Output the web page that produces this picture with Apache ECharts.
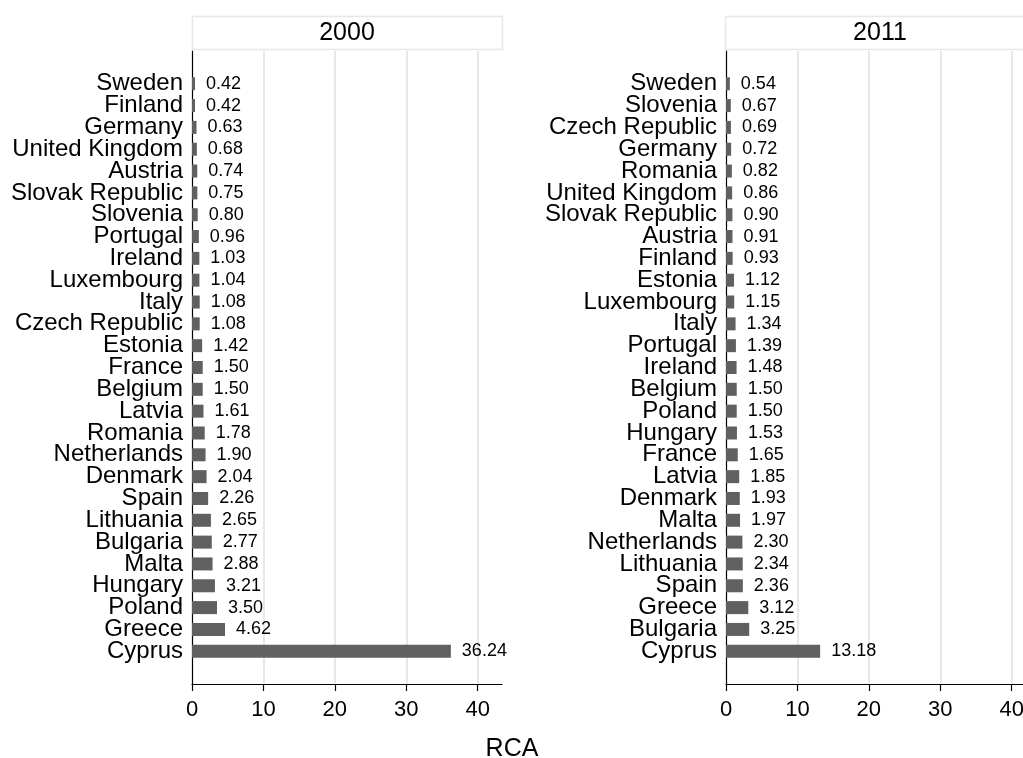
<!DOCTYPE html>
<html>
<head>
<meta charset="utf-8">
<script src="https://cdn.jsdelivr.net/npm/echarts@6/dist/echarts.min.js"></script>
<style>
  html, body { margin: 0; padding: 0; background: #fff; }
  #chart { width: 1023px; height: 758px; }
</style>
</head>
<body>
<div id="chart"></div>
<script>
// Revealed comparative advantage (RCA) by country, two years
const countries2000 = ['Sweden', 'Finland', 'Germany', 'United Kingdom', 'Austria', 'Slovak Republic',
  'Slovenia', 'Portugal', 'Ireland', 'Luxembourg', 'Italy', 'Czech Republic', 'Estonia', 'France',
  'Belgium', 'Latvia', 'Romania', 'Netherlands', 'Denmark', 'Spain', 'Lithuania', 'Bulgaria', 'Malta',
  'Hungary', 'Poland', 'Greece', 'Cyprus'];
const rca2000 = [0.42, 0.42, 0.63, 0.68, 0.74, 0.75, 0.80, 0.96, 1.03, 1.04, 1.08, 1.08, 1.42, 1.50,
  1.50, 1.61, 1.78, 1.90, 2.04, 2.26, 2.65, 2.77, 2.88, 3.21, 3.50, 4.62, 36.24];

const countries2011 = ['Sweden', 'Slovenia', 'Czech Republic', 'Germany', 'Romania', 'United Kingdom',
  'Slovak Republic', 'Austria', 'Finland', 'Estonia', 'Luxembourg', 'Italy', 'Portugal', 'Ireland',
  'Belgium', 'Poland', 'Hungary', 'France', 'Latvia', 'Denmark', 'Malta', 'Netherlands', 'Lithuania',
  'Spain', 'Greece', 'Bulgaria', 'Cyprus'];
const rca2011 = [0.54, 0.67, 0.69, 0.72, 0.82, 0.86, 0.90, 0.91, 0.93, 1.12, 1.15, 1.34, 1.39, 1.48,
  1.50, 1.50, 1.53, 1.65, 1.85, 1.93, 1.97, 2.30, 2.34, 2.36, 3.12, 3.25, 13.18];

const xTicks = [0, 10, 20, 30, 40];
const panelTitles = ['2000', '2011'];
const axisTitle = 'RCA';

const FONT = '"Liberation Sans", Arial, Helvetica, sans-serif';
const BAR_COLOR = '#606060';
const GRID_COLOR = '#e8e8e8';

// an empty slot above and below the bars leaves room inside the plot region
const pad = arr => [''].concat(arr, ['']);
const padVals = arr => [null].concat(arr, [null]);

const grids = [
  { left: 192, top: 51, width: 310, height: 633, outerBoundsMode: 'none', containLabel: false },
  { left: 726, top: 51, width: 310, height: 633, outerBoundsMode: 'none', containLabel: false }
];

function xAxisFor(i) {
  return {
    type: 'value', gridIndex: i, min: 0, max: 43.4,
    axisLine: { show: true, lineStyle: { color: '#000', width: 1.2 } },
    axisTick: { show: true, length: 7, lineStyle: { color: '#000', width: 1.2 }, customValues: xTicks },
    axisLabel: {
      customValues: xTicks, color: '#000', fontFamily: FONT, fontSize: 22, margin: 15,
      formatter: v => (v % 10 === 0 ? String(v) : '')
    },
    splitLine: { show: false }
  };
}

function yAxisFor(i, cats) {
  return {
    type: 'category', gridIndex: i, data: pad(cats), inverse: true,
    axisLine: { show: true, lineStyle: { color: '#000', width: 1.2 } },
    axisTick: { show: false },
    axisLabel: { color: '#000', fontFamily: FONT, fontSize: 24, margin: 9, interval: 0 },
    splitLine: { show: false }
  };
}

function barSeries(i, vals) {
  return {
    type: 'bar', xAxisIndex: i, yAxisIndex: i, data: padVals(vals), z: 3,
    barWidth: 13,
    itemStyle: { color: BAR_COLOR },
    label: {
      show: true, position: 'right', distance: 11, color: '#000',
      fontFamily: FONT, fontSize: 18,
      formatter: p => (p.value == null ? '' : p.value.toFixed(2))
    },
    silent: true
  };
}

// vertical reference lines at the major x ticks, drawn beneath the bars
function gridLineSeries(i) {
  return {
    type: 'line', xAxisIndex: i, yAxisIndex: i, data: [], z: 1, silent: true,
    markLine: {
      z: 1, silent: true, symbol: ['none', 'none'], label: { show: false },
      lineStyle: { color: GRID_COLOR, width: 2, type: 'solid' },
      emphasis: { disabled: true },
      data: xTicks.filter(v => v > 0).map(v => ({ xAxis: v }))
    }
  };
}

function headerBox(left, width, text) {
  return [
    {
      type: 'rect', shape: { x: left + 0.5, y: 16.5, width: width, height: 33 },
      style: { fill: '#fff', stroke: GRID_COLOR, lineWidth: 1.5 }, z: 10
    },
    {
      type: 'text', x: left + width / 2, y: 33, z: 11,
      style: { text: text, fill: '#000', font: '25px ' + FONT, textAlign: 'center', textVerticalAlign: 'middle' }
    }
  ];
}

const chart = echarts.init(document.getElementById('chart'), null, { renderer: 'canvas' });
chart.setOption({
  animation: false,
  backgroundColor: '#fff',
  grid: grids,
  xAxis: [xAxisFor(0), xAxisFor(1)],
  yAxis: [yAxisFor(0, countries2000), yAxisFor(1, countries2011)],
  series: [
    gridLineSeries(0), gridLineSeries(1),
    barSeries(0, rca2000), barSeries(1, rca2011)
  ],
  graphic: [].concat(
    headerBox(192, 310, panelTitles[0]),
    headerBox(725, 310, panelTitles[1]),
    [{
      type: 'text', x: 512, y: 749, z: 11,
      style: { text: axisTitle, fill: '#000', font: '25px ' + FONT, textAlign: 'center', textVerticalAlign: 'middle' }
    }]
  )
});
</script>
</body>
</html>
